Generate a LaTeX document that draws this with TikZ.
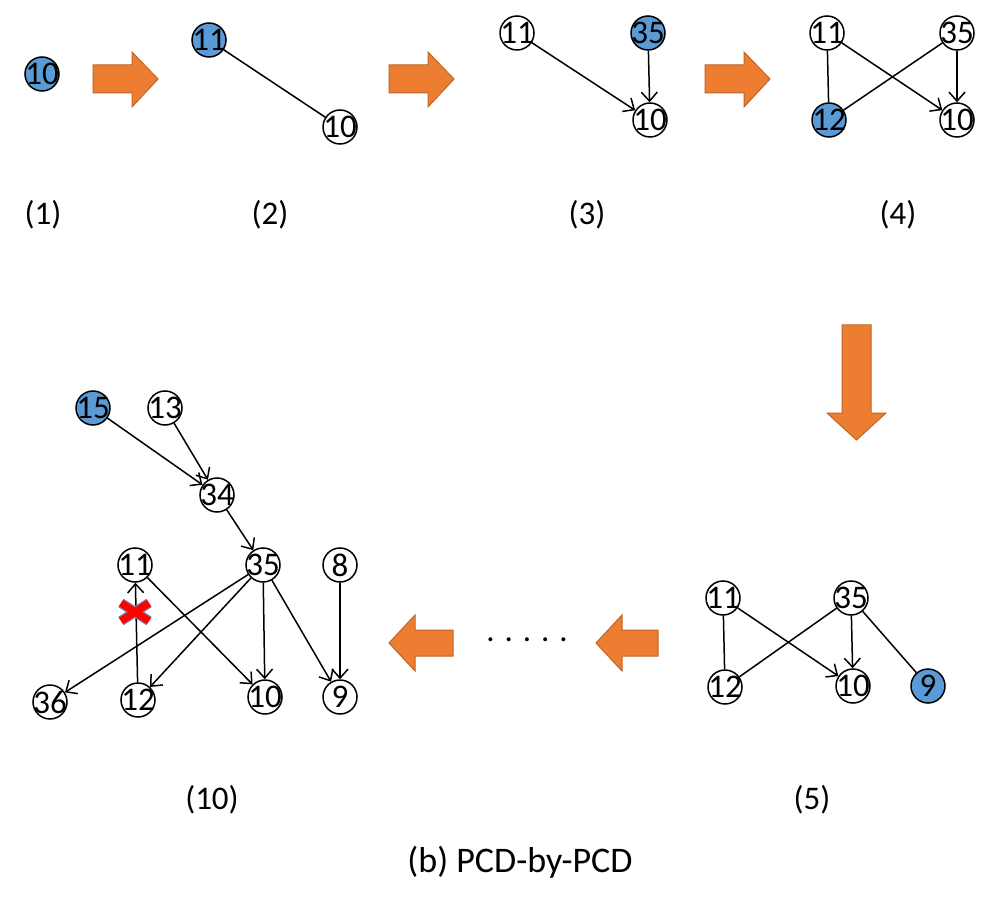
\documentclass[tikz,border=0pt]{standalone}
\usepackage{fontspec}
\setmainfont{Carlito}
\usetikzlibrary{arrows.meta}
\definecolor{nodeblue}{HTML}{5B9BD5}
\definecolor{arrorange}{HTML}{ED7D31}
\definecolor{arredge}{HTML}{C0652A}
\definecolor{xoutline}{HTML}{7A86A8}
\begin{document}
\begin{tikzpicture}[x=1pt,y=-1pt,
 vtx/.style={circle,draw=black,line width=1.5pt,fill=white,minimum size=34pt,inner sep=0pt,font=\fontsize{33}{33}\selectfont},
 vblue/.style={vtx,fill=nodeblue},
 edge/.style={line width=1.5pt},
 dedge/.style={edge,-{Straight Barb[length=9pt,width=16pt,line width=1.5pt]}},
 fatarrow/.style={fill=arrorange,draw=arredge,line width=1pt,line join=miter},
 lbl/.style={font=\fontsize{33}{33}\selectfont,inner sep=0pt}
]
\fill[white] (0,0) rectangle (996,909);
\useasboundingbox (0,0) rectangle (996,909);

% panel 1
\node[vblue] (p1a) at (42,74) {\makebox[0pt]{10}};
% panel 2
\node[vblue] (p2a) at (209,40) {\makebox[0pt]{11}};
\node[vtx] (p2b) at (340,127) {\makebox[0pt]{10}};
\draw[edge] (p2a) -- (p2b);
% panel 3
\node[vtx] (p3a) at (517,33) {\makebox[0pt]{11}};
\node[vblue] (p3b) at (648,33) {\makebox[0pt]{35}};
\node[vtx] (p3c) at (650,120) {\makebox[0pt]{10}};
\draw[dedge] (p3a) -- (p3c);
\draw[dedge] (p3b) -- (p3c);
% panel 4
\node[vtx] (p4a) at (827,33) {\makebox[0pt]{11}};
\node[vtx] (p4b) at (957,33) {\makebox[0pt]{35}};
\node[vblue] (p4c) at (829,120) {\makebox[0pt]{12}};
\node[vtx] (p4d) at (957,120) {\makebox[0pt]{10}};
\draw[edge] (p4a) -- (p4c);
\draw[edge] (p4b) -- (p4c);
\draw[dedge] (p4a) -- (p4d);
\draw[dedge] (p4b) -- (p4d);

% panel 5
\node[vtx] (p5a) at (723,598) {\makebox[0pt]{11}};
\node[vtx] (p5b) at (851,598) {\makebox[0pt]{35}};
\node[vtx] (p5c) at (725,687) {\makebox[0pt]{12}};
\node[vtx] (p5d) at (853,686) {\makebox[0pt]{10}};
\node[vblue] (p5e) at (928,686) {\makebox[0pt]{9}};
\draw[edge] (p5a) -- (p5c);
\draw[edge] (p5b) -- (p5c);
\draw[edge] (p5b) -- (p5e);
\draw[dedge] (p5a) -- (p5d);
\draw[dedge] (p5b) -- (p5d);

% panel 10
\node[vblue] (q15) at (93,408) {\makebox[0pt]{15}};
\node[vtx] (q13) at (165,408) {\makebox[0pt]{13}};
\node[vtx] (q34) at (217,495) {\makebox[0pt]{34}};
\node[vtx] (q11) at (135,565) {\makebox[0pt]{11}};
\node[vtx] (q35) at (263,565) {\makebox[0pt]{35}};
\node[vtx] (q8) at (340,565) {\makebox[0pt]{8}};
\node[vtx] (q36) at (50,702) {\makebox[0pt]{36}};
\node[vtx] (q12) at (138,700) {\makebox[0pt]{12}};
\node[vtx] (q10) at (265,697) {\makebox[0pt]{10}};
\node[vtx] (q9) at (340,697) {\makebox[0pt]{9}};
\draw[dedge] (q15) -- (q34);
\draw[dedge] (q13) -- (q34);
\draw[dedge] (q34) -- (q35);
\draw[dedge] (q35) -- (q36);
\draw[dedge] (q35) -- (q12);
\draw[dedge] (q35) -- (q10);
\draw[dedge] (q35) -- (q9);
\draw[dedge] (q11) -- (q10);
\draw[dedge] (q8) -- (q9);
\draw[dedge] (q12) -- (q11);
% red cross
\draw[xoutline,line width=10pt] (121,603) -- (149,621) (121,621) -- (149,603);
\draw[red,line width=7.5pt] (121,603) -- (149,621) (121,621) -- (149,603);

% fat arrows
\draw[fatarrow] (93,65) -- (132,65) -- (132,52) -- (158,79) -- (132,107) -- (132,93) -- (93,93) -- cycle;
\draw[fatarrow] (389,65) -- (428,65) -- (428,52) -- (454,79) -- (428,107) -- (428,93) -- (389,93) -- cycle;
\draw[fatarrow] (705,65) -- (744,65) -- (744,52) -- (770,79) -- (744,107) -- (744,93) -- (705,93) -- cycle;
\draw[fatarrow] (842,325) -- (871,325) -- (871,413) -- (886,413) -- (856.5,440) -- (827,413) -- (842,413) -- cycle;
\draw[fatarrow] (453,630) -- (415,630) -- (415,615) -- (389,643) -- (415,671) -- (415,656) -- (453,656) -- cycle;
\draw[fatarrow] (658,630) -- (622,630) -- (622,615) -- (596,643) -- (622,671) -- (622,656) -- (658,656) -- cycle;

% labels
\node[lbl] (l1) at (43,215) {(1)};
\node[lbl] (l2) at (270,215) {(2)};
\node[lbl] (l3) at (587,215) {(3)};
\node[lbl] (l4) at (898,215) {(4)};
\node[lbl] (l10) at (212,800) {(10)};
\node[lbl] (l5) at (812,800) {(5)};
\node[lbl,anchor=base] (dots) at (527,641) {. . . . .};
\node[font=\fontsize{36}{36}\selectfont,inner sep=0pt] (cap) at (520,862) {(b) PCD-by-PCD};
\end{tikzpicture}
\end{document}
